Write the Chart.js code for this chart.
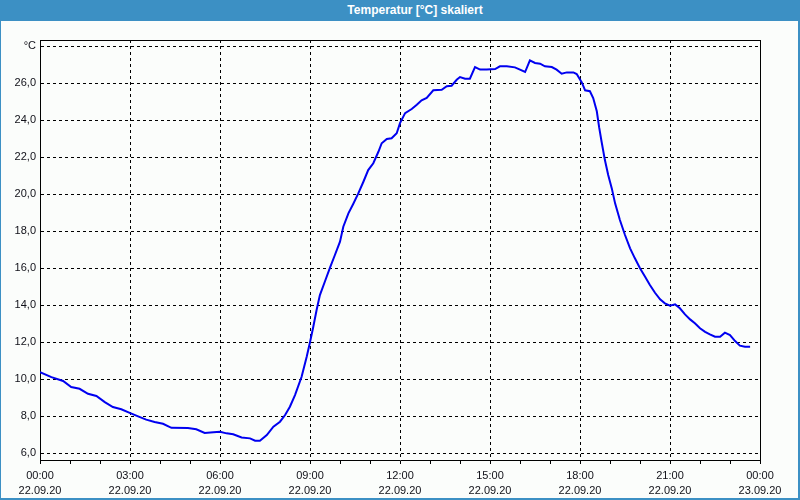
<!DOCTYPE html>
<html><head><meta charset="utf-8">
<script src="https://cdn.jsdelivr.net/npm/chart.js@4/dist/chart.umd.min.js"></script>
<style>
html,body{margin:0;padding:0;background:#fff}
#win{position:absolute;left:0;top:0;width:800px;height:500px;background:#3c90c4;overflow:hidden}
#title{position:absolute;left:0;top:0;width:800px;height:21px;color:#fff;font:bold 12px "Liberation Sans",sans-serif;text-align:center;line-height:20px;padding-left:30px;box-sizing:border-box}
#plot{position:absolute;left:1px;top:21px;width:797px;height:477px;background:#fbfdfb}
</style>
</head><body>
<div id="win">
  <div id="title">Temperatur [°C] skaliert</div>
  <div id="plot"><canvas id="c" width="797" height="477"></canvas></div>
</div>
<script>
// Time in hours since 22.09.20 00:00
const hours = [0.00,0.38,0.77,1.04,1.32,1.60,1.88,2.16,2.43,2.71,2.99,3.27,3.54,3.82,4.10,4.38,4.93,5.21,5.49,5.78,6.00,6.22,6.44,6.72,7.00,7.17,7.33,7.56,7.78,8.00,8.17,8.33,8.50,8.72,8.89,9.00,9.11,9.22,9.33,9.50,9.67,9.83,10.00,10.11,10.28,10.44,10.61,10.78,10.94,11.11,11.28,11.39,11.56,11.72,11.89,12.00,12.17,12.39,12.56,12.72,12.89,13.11,13.39,13.56,13.72,13.89,14.00,14.17,14.33,14.50,14.67,14.89,15.17,15.33,15.56,15.83,16.00,16.17,16.33,16.50,16.67,16.83,17.06,17.22,17.39,17.56,17.78,17.89,18.06,18.17,18.33,18.44,18.56,18.64,18.72,18.83,18.94,19.06,19.17,19.33,19.50,19.67,19.83,20.00,20.17,20.33,20.50,20.67,20.83,21.00,21.17,21.33,21.50,21.67,21.83,22.00,22.17,22.33,22.50,22.67,22.83,23.00,23.17,23.33,23.50,23.67];
const temps = [10.39,10.12,9.91,9.58,9.49,9.22,9.10,8.77,8.50,8.38,8.19,8.00,7.82,7.69,7.60,7.38,7.37,7.30,7.10,7.14,7.17,7.08,7.03,6.86,6.81,6.68,6.68,6.99,7.44,7.71,8.07,8.52,9.15,10.14,11.22,12.00,12.84,13.75,14.55,15.30,16.05,16.72,17.44,18.25,18.97,19.48,20.05,20.68,21.31,21.68,22.30,22.76,22.99,23.03,23.30,23.85,24.39,24.61,24.84,25.08,25.21,25.62,25.65,25.84,25.87,26.19,26.34,26.25,26.25,26.88,26.74,26.74,26.77,26.92,26.92,26.86,26.74,26.61,27.24,27.10,27.06,26.92,26.88,26.74,26.52,26.59,26.59,26.50,26.05,25.62,25.57,25.20,24.49,23.60,22.84,21.85,21.04,20.32,19.51,18.61,17.80,17.08,16.54,16.00,15.55,15.10,14.68,14.32,14.11,13.98,14.05,13.84,13.51,13.24,13.03,12.76,12.57,12.43,12.30,12.30,12.52,12.39,12.07,11.82,11.76,11.76];

// Axis ticks
const xTickHours = [0,1,2,3,4,5,6,7,8,9,10,11,12,13,14,15,16,17,18,19,20,21,22,23,24];
const xMajorHours = [0,3,6,9,12,15,18,21,24];
const xTimeLabels = ['00:00','03:00','06:00','09:00','12:00','15:00','18:00','21:00','00:00'];
const xDateLabels = ['22.09.20','22.09.20','22.09.20','22.09.20','22.09.20','22.09.20','22.09.20','22.09.20','23.09.20'];
const yTicks = [6,8,10,12,14,16,18,20,22,24,26,28];
const yTickLabels = ['6,0','8,0','10,0','12,0','14,0','16,0','18,0','20,0','22,0','24,0','26,0','°C'];

const points = hours.map((h,i)=>({x:h, y:temps[i]}));
const fam = '"Liberation Sans", Arial, sans-serif';

const boxPlugin = {
  id:'box',
  afterDraw(chart){
    const a = chart.chartArea, ctx = chart.ctx;
    ctx.save();
    ctx.strokeStyle = '#000'; ctx.lineWidth = 1; ctx.setLineDash([]);
    ctx.beginPath();
    ctx.moveTo(Math.floor(a.left)+0.5, Math.floor(a.top)+0.5);
    ctx.lineTo(Math.floor(a.right)+0.5, Math.floor(a.top)+0.5);
    ctx.lineTo(Math.floor(a.right)+0.5, Math.floor(a.bottom)+0.5);
    ctx.stroke();
    ctx.restore();
  }
};

new Chart(document.getElementById('c'), {
  type:'line',
  data:{datasets:[{data:points, borderColor:'#0000f0', borderWidth:2, pointRadius:0, tension:0, fill:false}]},
  options:{
    responsive:false, animation:false,
    layout:{padding:{top:19, right:38, left:0, bottom:0}},
    plugins:{legend:{display:false}, tooltip:{enabled:false}},
    scales:{
      x:{type:'linear', min:0, max:24,
        afterBuildTicks(s){ s.ticks = xTickHours.map(v=>({value:v})); },
        afterFit(s){ s.height = 38; },
        grid:{color:(c)=> (c.tick && xMajorHours.includes(c.tick.value)) ? '#000' : 'rgba(0,0,0,0)', tickColor:'#000', tickLength:4, lineWidth:1},
        border:{color:'#000', width:1, dash:[3,3]},
        ticks:{autoSkip:false, maxRotation:0, minRotation:0, padding:4, color:'#101018', font:{family:fam, size:11, lineHeight:'15px'},
          callback:(v)=>{ const k = xMajorHours.indexOf(v); return k>=0 ? [xTimeLabels[k], xDateLabels[k]] : ''; }}
      },
      y:{type:'linear', min:5.64, max:28.34,
        afterBuildTicks(s){ s.ticks = yTicks.map(v=>({value:v})); },
        afterFit(s){ s.width = 39; },
        grid:{color:'#000', drawTicks:false, lineWidth:1},
        border:{color:'#000', width:1, dash:[3,3]},
        ticks:{padding:4, color:'#101018', font:{family:fam, size:11},
          callback:(v)=> yTickLabels[yTicks.indexOf(v)] }
      }
    }
  },
  plugins:[boxPlugin]
});
</script>
</body></html>
